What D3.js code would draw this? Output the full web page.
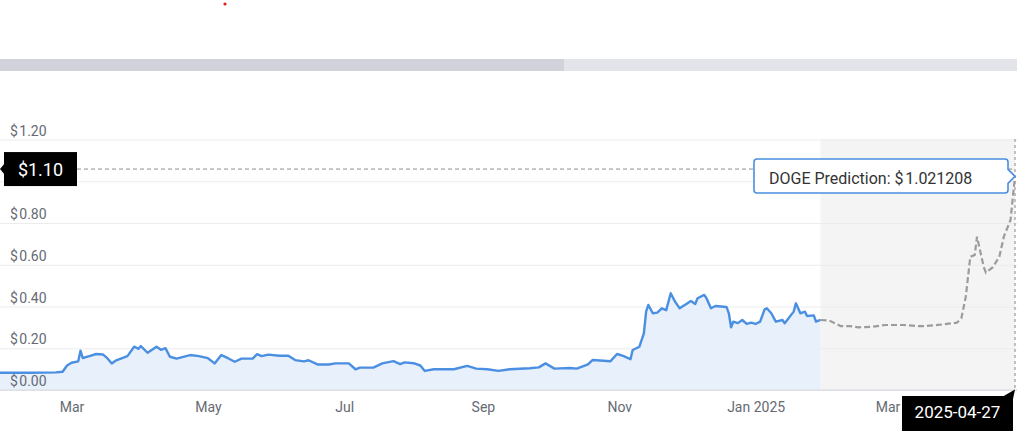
<!DOCTYPE html>
<html>
<head>
<meta charset="utf-8">
<script src="https://cdn.jsdelivr.net/npm/d3@7"></script>
<style>
  html, body { margin: 0; padding: 0; background: #fff; }
  svg { display: block; font-family: Roboto, "Noto Sans", Arial, sans-serif; }
</style>
</head>
<body>
<svg id="chart" width="1024" height="435"></svg>
<script>
// ---------- data ----------
const actualDates = ["2024-01-29","2024-02-12","2024-02-23","2024-02-26","2024-02-28","2024-03-01","2024-03-04","2024-03-05","2024-03-06","2024-03-09","2024-03-12","2024-03-15","2024-03-17","2024-03-19","2024-03-21","2024-03-26","2024-03-29","2024-03-31","2024-04-01","2024-04-04","2024-04-08","2024-04-10","2024-04-12","2024-04-14","2024-04-17","2024-04-23","2024-04-27","2024-05-01","2024-05-04","2024-05-07","2024-05-10","2024-05-13","2024-05-16","2024-05-21","2024-05-23","2024-05-25","2024-05-28","2024-06-02","2024-06-06","2024-06-09","2024-06-13","2024-06-15","2024-06-19","2024-06-24","2024-06-27","2024-07-03","2024-07-06","2024-07-08","2024-07-14","2024-07-18","2024-07-23","2024-07-26","2024-07-28","2024-08-01","2024-08-04","2024-08-06","2024-08-10","2024-08-19","2024-08-25","2024-08-29","2024-09-03","2024-09-08","2024-09-13","2024-09-22","2024-09-26","2024-09-29","2024-10-03","2024-10-10","2024-10-13","2024-10-18","2024-10-20","2024-10-25","2024-10-28","2024-10-31","2024-11-03","2024-11-06","2024-11-07","2024-11-10","2024-11-12","2024-11-13","2024-11-14","2024-11-16","2024-11-18","2024-11-20","2024-11-22","2024-11-24","2024-11-26","2024-11-28","2024-12-01","2024-12-03","2024-12-05","2024-12-06","2024-12-09","2024-12-10","2024-12-12","2024-12-14","2024-12-19","2024-12-20","2024-12-21","2024-12-22","2024-12-24","2024-12-26","2024-12-28","2024-12-30","2025-01-01","2025-01-03","2025-01-05","2025-01-06","2025-01-08","2025-01-10","2025-01-13","2025-01-14","2025-01-18","2025-01-19","2025-01-21","2025-01-23","2025-01-24","2025-01-27","2025-01-28","2025-01-30"];
const actualValues = [0.080,0.080,0.082,0.085,0.115,0.128,0.135,0.186,0.151,0.160,0.170,0.168,0.150,0.125,0.140,0.160,0.205,0.195,0.208,0.176,0.205,0.190,0.198,0.157,0.148,0.165,0.160,0.150,0.125,0.165,0.150,0.133,0.148,0.148,0.169,0.160,0.167,0.162,0.162,0.141,0.135,0.140,0.120,0.120,0.125,0.125,0.097,0.105,0.105,0.125,0.136,0.122,0.130,0.126,0.115,0.089,0.097,0.097,0.113,0.100,0.097,0.089,0.097,0.102,0.106,0.125,0.100,0.103,0.100,0.120,0.141,0.138,0.135,0.170,0.160,0.145,0.189,0.205,0.269,0.373,0.405,0.365,0.368,0.389,0.380,0.461,0.420,0.389,0.410,0.424,0.410,0.437,0.453,0.437,0.389,0.400,0.395,0.365,0.298,0.325,0.318,0.333,0.314,0.320,0.314,0.325,0.384,0.389,0.365,0.325,0.333,0.317,0.373,0.413,0.365,0.373,0.352,0.355,0.325,0.333];

const predictionDates = ["2025-01-30","2025-02-03","2025-02-08","2025-02-12","2025-02-16","2025-02-22","2025-02-28","2025-03-08","2025-03-15","2025-03-18","2025-03-26","2025-04-01","2025-04-03","2025-04-05","2025-04-07","2025-04-09","2025-04-10","2025-04-11","2025-04-13","2025-04-14","2025-04-17","2025-04-20","2025-04-22","2025-04-25","2025-04-27"];
const predictionValues = [0.333,0.330,0.304,0.304,0.298,0.300,0.309,0.309,0.304,0.304,0.312,0.320,0.341,0.445,0.636,0.644,0.732,0.684,0.588,0.560,0.585,0.636,0.732,0.812,1.021208];

const yTickValues = [0, 0.2, 0.4, 0.6, 0.8, 1.0, 1.2];
const xTickDates = ["2024-03-01","2024-05-01","2024-07-01","2024-09-01","2024-11-01","2025-01-01","2025-03-01"];
const xTickLabels = ["Mar","May","Jul","Sep","Nov","Jan 2025","Mar"];

const xDomain = ["2024-01-29", "2025-04-27"];
const yDomain = [0, 1.2];
const crosshairValue = [1.056];
const crosshairLabel = ["$1.10"];
const crosshairDate = ["2025-04-27"];
const tooltipText = ["DOGE Prediction: $\u200A1.021208"];

// ---------- setup ----------
const parse = d3.timeParse("%Y-%m-%d");
const actual = actualDates.map((d, i) => ({ date: parse(d), value: actualValues[i] }));
const pred = predictionDates.map((d, i) => ({ date: parse(d), value: predictionValues[i] }));

const svg = d3.select("#chart");
const plotLeft = 0, plotRight = 1015, plotTop = 139, plotBottom = 389.5;

const x = d3.scaleTime().domain(xDomain.map(parse)).range([plotLeft, plotRight]);
const y = d3.scaleLinear().domain(yDomain).range([plotBottom, plotTop]);

// top decorations (navigator-like bar)
svg.append("circle").attr("cx", 225).attr("cy", 4).attr("r", 1.6).attr("fill", "#e02020");
svg.append("rect").attr("x", 0).attr("y", 59).attr("width", 1017).attr("height", 12).attr("fill", "#e3e4ea");
svg.append("rect").attr("x", 0).attr("y", 59).attr("width", 564).attr("height", 12).attr("fill", "#d2d3da");

// prediction band
const predStart = pred[0].date, predEnd = pred[pred.length - 1].date;
svg.append("rect")
  .attr("x", x(predStart)).attr("y", plotTop)
  .attr("width", x(predEnd) - x(predStart)).attr("height", plotBottom - plotTop)
  .attr("fill", "#f4f4f4");

// gridlines
const grid = svg.append("g")
  .call(d3.axisLeft(y).tickValues(yTickValues).tickSize(-1017).tickFormat(""));
grid.select(".domain").remove();
grid.selectAll(".tick line").attr("stroke", "#ececec").attr("stroke-width", 1)
  .attr("transform", "translate(0,0.5)");

// area + line
const area = d3.area().x(d => x(d.date)).y0(plotBottom).y1(d => y(d.value)).curve(d3.curveLinear);
const line = d3.line().x(d => x(d.date)).y(d => y(d.value)).curve(d3.curveLinear);

svg.append("path").datum(actual).attr("d", area).attr("fill", "#e8f0fc");
svg.append("path").datum(actual).attr("d", line)
  .attr("fill", "none").attr("stroke", "#4a8fe2").attr("stroke-width", 2.4).attr("stroke-linejoin", "round");

svg.append("path").datum(pred).attr("d", line)
  .attr("fill", "none").attr("stroke", "#9c9c9c").attr("stroke-width", 2.2)
  .attr("stroke-dasharray", "6,3");

// x axis
const xAxis = svg.append("g").attr("transform", `translate(0,${plotBottom})`)
  .call(d3.axisBottom(x).tickValues(xTickDates.map(parse)).tickSize(0).tickPadding(13)
    .tickFormat((d, i) => xTickLabels[i]));
xAxis.select(".domain").attr("stroke", "#cfd3dc").attr("d", "M0,0.5H1017");
xAxis.selectAll("text").attr("fill", "#666a73").style("font-size", "14px").style("font-family", "Roboto, sans-serif");

// y axis labels (the $1.00 label sits under the crosshair label box, as in the source)
const yAxis = svg.append("g").attr("transform", `translate(10,0)`)
  .call(d3.axisRight(y).tickValues(yTickValues).tickSize(0).tickPadding(0)
    .tickFormat(d => "$\u200A" + d3.format(".2f")(d)));
yAxis.select(".domain").remove();
yAxis.selectAll("text").attr("dy", null).attr("y", -4).attr("x", 0)
  .attr("fill", "#666a73").style("font-size", "14px").style("font-family", "Roboto, sans-serif");
yAxis.selectAll(".tick").filter(d => Math.abs(y(d) - y(crosshairValue[0])) < 20).remove();

// crosshairs
const cx = x(parse(crosshairDate[0]));
const cy = y(crosshairValue[0]);
svg.append("line").attr("x1", 77).attr("x2", cx).attr("y1", cy).attr("y2", cy)
  .attr("stroke", "#8f8f8f").attr("stroke-width", 1).attr("stroke-dasharray", "4,3");
svg.append("line").attr("x1", cx).attr("x2", cx).attr("y1", plotTop).attr("y2", plotBottom)
  .attr("stroke", "#9a9a9a").attr("stroke-width", 1.2).attr("stroke-dasharray", "3,3");

// y crosshair label
const yl = svg.append("g");
yl.append("path").attr("d", `M0,${cy} L5,${cy - 6} L5,${cy + 6} Z`).attr("fill", "#000");
yl.append("rect").attr("x", 4).attr("y", cy - 17).attr("width", 73).attr("height", 34).attr("fill", "#000");
yl.append("text").attr("x", 40.5).attr("y", cy + 6.5).attr("text-anchor", "middle")
  .attr("fill", "#fff").style("font-size", "18px").text(crosshairLabel[0]);

// x crosshair label
const xl = svg.append("g");
xl.append("rect").attr("x", 902).attr("y", 396).attr("width", 111).attr("height", 35).attr("fill", "#000");
xl.append("path").attr("d", `M1002,397 L${cx},${plotBottom} L1013,399 Z`).attr("fill", "#000");
xl.append("text").attr("x", 957.5).attr("y", 418).attr("text-anchor", "middle")
  .attr("fill", "#fff").style("font-size", "17px").text(crosshairDate[0]);

// tooltip
const last = pred[pred.length - 1];
const px = x(last.date), py = y(last.value);
const tt = svg.append("g");
tt.append("path")
  .attr("d", `M757,159 H1005 Q1008,159 1008,162 V${py - 7} L${px},${py} L1008,${py + 7} V190 Q1008,193 1005,193 H757 Q754,193 754,190 V162 Q754,159 757,159 Z`)
  .attr("fill", "#fff").attr("stroke", "#4a8ee0").attr("stroke-width", 1.6);
tt.append("text").attr("x", 769).attr("y", 184).attr("fill", "#333")
  .style("font-size", "16px").text(tooltipText[0]);
</script>
</body>
</html>
